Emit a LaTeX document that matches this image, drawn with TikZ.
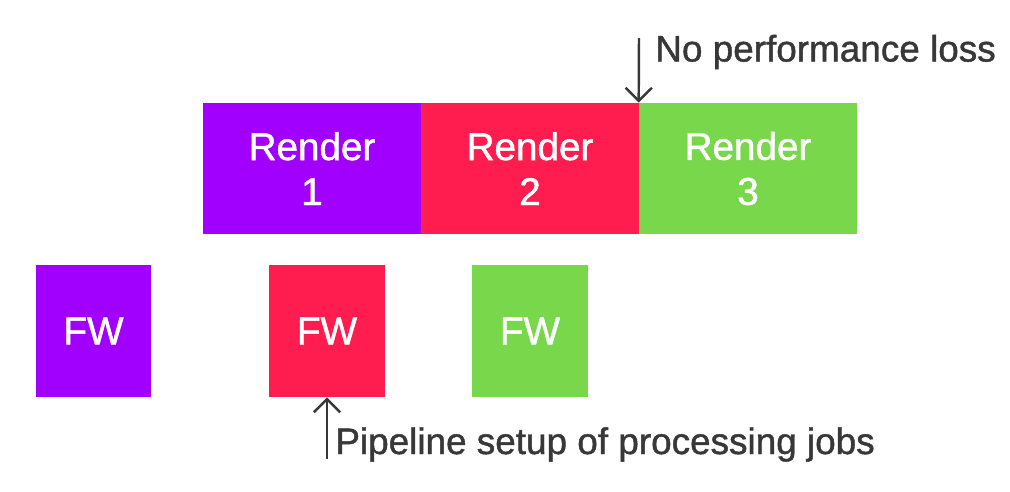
\documentclass[tikz,border=0pt]{standalone}
\usepackage{fontspec}
\setmainfont{Liberation Sans}
\newfontfamily\medfont{Liberation Sans}[RawFeature={embolden=1.2}]
\usetikzlibrary{arrows.meta}
\definecolor{fwpurple}{HTML}{A100FF}
\definecolor{fwred}{HTML}{FF1D50}
\definecolor{fwgreen}{HTML}{78D74A}
\definecolor{notegray}{HTML}{383838}
\tikzset{
  render/.style={inner sep=0pt, minimum width=4.36cm, minimum height=2.62cm, text=white, align=center, font=\medfont\fontsize{22}{25.6}\selectfont},
  fwbox/.style={inner sep=0pt, minimum width=2.32cm, minimum height=2.64cm, text=white, font=\medfont\fontsize{22}{25.6}\selectfont},
  note/.style={inner sep=0pt, anchor=base west, text=notegray, font=\medfont\fontsize{21}{25}\selectfont},
  pointer/.style={->, draw=notegray, line width=1.4pt, >={Straight Barb[length=7.5pt,width=15pt]}}
}
\begin{document}
\begin{tikzpicture}[x=0.02cm, y=-0.02cm]
    \useasboundingbox (0,0) rectangle (1010,491);

    \node[render,fill=fwpurple] (r1) at (312,168.5) {Render\\1};
    \node[render,fill=fwred] (r2) at (530,168.5) {Render\\2};
    \node[render,fill=fwgreen] (r3) at (748,168.5) {Render\\3};

    \node[fwbox,fill=fwpurple] (fw1) at (93.5,331) {FW};
    \node[fwbox,fill=fwred] (fw2) at (327,331) {FW};
    \node[fwbox,fill=fwgreen] (fw3) at (530,331) {FW};

    \node[note] (loss) at (655,61.5) {No performance loss};
    \node[note] (setup) at (335,454) {Pipeline setup of processing jobs};

    \coordinate (losstop) at (639,38);
    \coordinate (setupbot) at (327,459);
    \draw[pointer] (losstop) -- (r3.north west);
    \draw[pointer] (setupbot) -- (fw2.south);
\end{tikzpicture}
\end{document}
